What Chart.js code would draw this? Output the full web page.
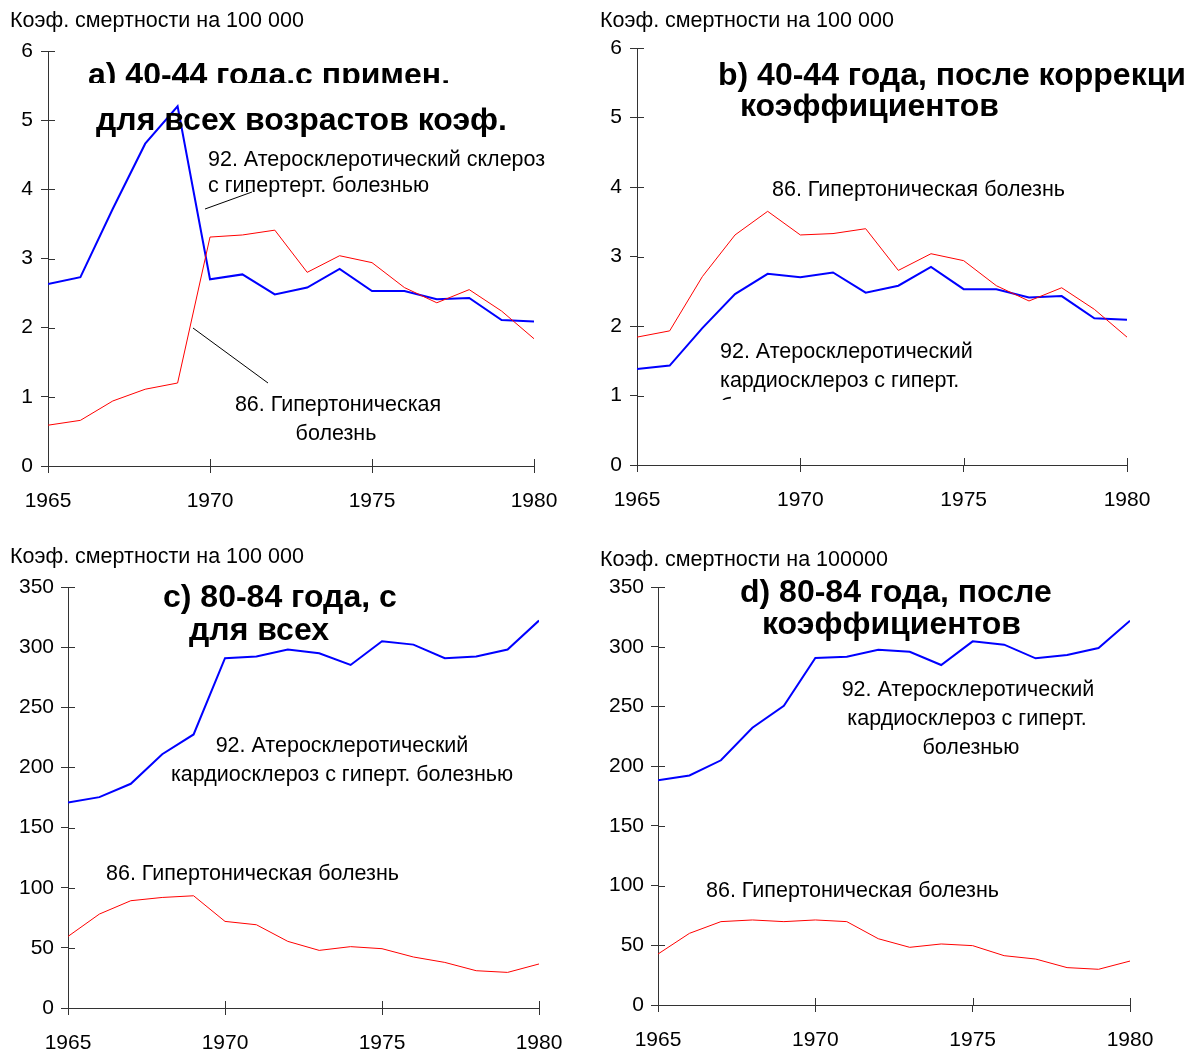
<!DOCTYPE html>
<html>
<head>
<meta charset="utf-8">
<script src="https://cdn.jsdelivr.net/npm/chart.js"></script>
<style>
  body { margin: 0; background: #fff; width: 1185px; height: 1051px; position: relative; overflow: hidden; }
  canvas { position: absolute; }
</style>
</head>
<body>
<canvas id="chartA" width="590" height="530" style="left:0;top:0"></canvas>
<canvas id="chartB" width="595" height="530" style="left:590px;top:0"></canvas>
<canvas id="chartC" width="590" height="521" style="left:0;top:530px"></canvas>
<canvas id="chartD" width="595" height="521" style="left:590px;top:530px"></canvas>
<script>
// data
const years = [1965, 1966, 1967, 1968, 1969, 1970, 1971, 1972, 1973, 1974, 1975, 1976, 1977, 1978, 1979, 1980];
const xTicks = [1965, 1970, 1975, 1980];

// 40-44, with the all-ages coefficient
const hyperA = [0.59, 0.66, 0.94, 1.11, 1.20, 3.31, 3.34, 3.41, 2.80, 3.04, 2.94, 2.58, 2.36, 2.55, 2.24, 1.84];
const atheroA = [2.63, 2.73, 3.72, 4.66, 5.20, 2.70, 2.77, 2.48, 2.58, 2.85, 2.53, 2.53, 2.41, 2.43, 2.11, 2.09];
// 40-44, after correction
const hyperB = [1.84, 1.93, 2.71, 3.31, 3.65, 3.31, 3.33, 3.40, 2.80, 3.04, 2.94, 2.58, 2.36, 2.55, 2.24, 1.84];
const atheroB = [1.38, 1.43, 1.97, 2.46, 2.75, 2.70, 2.77, 2.48, 2.58, 2.85, 2.53, 2.53, 2.41, 2.43, 2.11, 2.09];
// 80-84, with the all-ages coefficient
const hyperC = [59.5, 78.1, 89.2, 91.9, 93.3, 72.0, 69.2, 55.4, 47.9, 51.0, 49.3, 42.4, 37.9, 31.0, 29.6, 36.6];
const atheroC = [170.9, 175.3, 186.4, 211.0, 227.4, 290.8, 292.2, 298.0, 294.9, 285.2, 304.9, 302.1, 290.8, 292.2, 298.0, 322.1];
// 80-84, after correction
const hyperD = [42.7, 60.0, 69.8, 71.2, 69.8, 71.2, 69.8, 55.5, 48.3, 51.1, 49.7, 41.3, 38.5, 31.3, 29.9, 36.8];
const atheroD = [188.1, 192.2, 204.9, 232.2, 250.6, 290.5, 291.6, 297.5, 295.8, 284.7, 304.5, 301.7, 290.3, 293.1, 298.9, 321.8];

const yTicksSmall = [0, 1, 2, 3, 4, 5, 6];
const yTicksBig = [0, 50, 100, 150, 200, 250, 300, 350];

const FONT = "'Liberation Sans', Arial, sans-serif";
const axisColor = '#333';
const TICK = 7;
const NOTE = 21.5;   // annotation text
const HEAD = 32;     // bold panel titles

const toPoints = (vals) => vals.map((v, i) => ({ x: years[i], y: v }));

// ticks in the picture cross the axis, chart.js only draws the outer half
const innerTicks = {
  id: 'innerTicks',
  afterDatasetsDraw(chart) {
    const { ctx, chartArea, scales: { x, y } } = chart;
    ctx.save();
    ctx.strokeStyle = axisColor;
    ctx.lineWidth = 1;
    ctx.beginPath();
    y.ticks.forEach(t => {
      const py = Math.round(y.getPixelForValue(t.value)) + 0.5;
      ctx.moveTo(chartArea.left, py);
      ctx.lineTo(chartArea.left + TICK, py);
    });
    x.ticks.forEach(t => {
      const px = Math.round(x.getPixelForValue(t.value)) + 0.5;
      ctx.moveTo(px, chartArea.bottom);
      ctx.lineTo(px, chartArea.bottom - TICK);
    });
    ctx.stroke();
    ctx.restore();
  }
};

// free text and leader lines
const notes = {
  id: 'notes',
  afterDraw(chart, args, opts) {
    const ctx = chart.ctx;
    ctx.save();
    ctx.fillStyle = '#000';
    ctx.textBaseline = 'middle';
    (opts.texts || []).forEach(t => {
      ctx.save();
      if (t.clipBottom) {
        ctx.beginPath();
        ctx.rect(0, 0, chart.width, t.clipBottom);
        ctx.clip();
      }
      ctx.font = (t.bold ? 'bold ' : '') + t.size + 'px ' + FONT;
      ctx.textAlign = t.align || 'left';
      ctx.fillText(t.text, t.x, t.y);
      ctx.restore();
    });
    ctx.strokeStyle = '#000';
    ctx.lineWidth = 1;
    (opts.lines || []).forEach(l => {
      ctx.beginPath();
      ctx.moveTo(l[0], l[1]);
      ctx.lineTo(l[2], l[3]);
      ctx.stroke();
    });
    ctx.restore();
  }
};

function makeChart(id, area, hyper, athero, yTicks, yMax, yGap, texts, lines) {
  const canvas = document.getElementById(id);
  return new Chart(canvas, {
    type: 'line',
    data: {
      datasets: [
        { label: '86. Гипертоническая болезнь', data: toPoints(hyper), borderColor: '#ff0000', borderWidth: 1, pointRadius: 0, tension: 0 },
        { label: '92. Атеросклеротический кардиосклероз', data: toPoints(athero), borderColor: '#0000ff', borderWidth: 2, pointRadius: 0, tension: 0 }
      ]
    },
    options: {
      responsive: false,
      animation: false,
      layout: { padding: { left: 0, top: area.top, right: canvas.width - area.right, bottom: 0 } },
      plugins: {
        legend: { display: false },
        tooltip: { enabled: false },
        notes: { texts: texts, lines: lines }
      },
      scales: {
        x: {
          type: 'linear',
          min: years[0],
          max: years[years.length - 1],
          afterBuildTicks: (s) => { s.ticks = xTicks.map(v => ({ value: v })); },
          afterFit: (s) => { s.height = canvas.height - area.bottom; },
          ticks: { color: '#000', font: { family: FONT, size: 21 }, padding: 16, maxRotation: 0, callback: (v) => String(v) },
          grid: { drawOnChartArea: false, drawTicks: true, tickLength: TICK, color: axisColor },
          border: { color: axisColor, width: 1 }
        },
        y: {
          min: 0,
          max: yMax,
          afterBuildTicks: (s) => { s.ticks = yTicks.map(v => ({ value: v })); },
          afterFit: (s) => { s.width = area.left; },
          ticks: { color: '#000', font: { family: FONT, size: 21 }, padding: yGap - TICK },
          grid: { drawOnChartArea: false, drawTicks: true, tickLength: TICK, color: axisColor },
          border: { color: axisColor, width: 1 }
        }
      }
    },
    plugins: [innerTicks, notes]
  });
}

const yTitle = 'Коэф. смертности на 100 000';

makeChart('chartA', { left: 48, top: 51, right: 534, bottom: 466 }, hyperA, atheroA, yTicksSmall, 6, 15, [
  { text: yTitle, x: 10, y: 21, size: NOTE },
  { text: 'a) 40-44 года.с примен.', x: 88, y: 76, size: HEAD, bold: true, clipBottom: 83 },
  { text: 'для всех возрастов коэф.', x: 96, y: 121, size: HEAD, bold: true },
  { text: '92. Атеросклеротический склероз', x: 208, y: 160, size: NOTE },
  { text: 'с гипертерт. болезнью', x: 208, y: 186, size: NOTE },
  { text: '86. Гипертоническая', x: 338, y: 405, size: NOTE, align: 'center' },
  { text: 'болезнь', x: 336, y: 434, size: NOTE, align: 'center' }
], [[205, 209, 252, 192], [193, 328, 268, 383]]);

makeChart('chartB', { left: 47, top: 48, right: 537, bottom: 465 }, hyperB, atheroB, yTicksSmall, 6, 15, [
  { text: yTitle, x: 10, y: 21, size: NOTE },
  { text: 'b) 40-44 года, после коррекции', x: 128, y: 76, size: HEAD, bold: true },
  { text: 'коэффициентов', x: 150, y: 107, size: HEAD, bold: true },
  { text: '86. Гипертоническая болезнь', x: 182, y: 190, size: NOTE },
  { text: '92. Атеросклеротический', x: 130, y: 352, size: NOTE },
  { text: 'кардиосклероз с гиперт.', x: 130, y: 381, size: NOTE },
  { text: 'болезнью', x: 130, y: 407, size: NOTE, clipBottom: 400 }
], []);

makeChart('chartC', { left: 68, top: 57, right: 539, bottom: 478 }, hyperC, atheroC, yTicksBig, 350, 14, [
  { text: yTitle, x: 10, y: 27, size: NOTE },
  { text: 'c) 80-84 года, с', x: 163, y: 68, size: HEAD, bold: true },
  { text: 'для всех', x: 189, y: 101, size: HEAD, bold: true },
  { text: '92. Атеросклеротический', x: 342, y: 216, size: NOTE, align: 'center' },
  { text: 'кардиосклероз с гиперт. болезнью', x: 342, y: 245, size: NOTE, align: 'center' },
  { text: '86. Гипертоническая болезнь', x: 106, y: 344, size: NOTE }
], []);

makeChart('chartD', { left: 68, top: 57, right: 540, bottom: 475 }, hyperD, atheroD, yTicksBig, 350, 14, [
  { text: 'Коэф. смертности на 100000', x: 10, y: 30, size: NOTE },
  { text: 'd) 80-84 года, после', x: 150, y: 63, size: HEAD, bold: true },
  { text: 'коэффициентов', x: 172, y: 95, size: HEAD, bold: true },
  { text: '92. Атеросклеротический', x: 378, y: 160, size: NOTE, align: 'center' },
  { text: 'кардиосклероз с гиперт.', x: 377, y: 189, size: NOTE, align: 'center' },
  { text: 'болезнью', x: 381, y: 218, size: NOTE, align: 'center' },
  { text: '86. Гипертоническая болезнь', x: 116, y: 361, size: NOTE }
], []);
</script>
</body>
</html>
